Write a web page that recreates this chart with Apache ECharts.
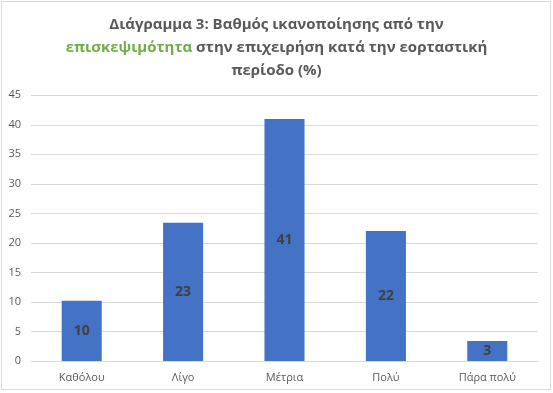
<!DOCTYPE html>
<html><head><meta charset="utf-8">
<script src="https://cdn.jsdelivr.net/npm/echarts@6/dist/echarts.min.js"></script>
<style>
html,body{margin:0;padding:0;background:#fff;}
#c{width:553px;height:393px;}
#f{position:absolute;left:1px;top:1px;width:550px;height:389px;border:1px solid #d9d9d9;box-sizing:border-box;pointer-events:none;}
</style></head>
<body>
<div id="c"></div><div id="f"></div>
<script>
const categories = ['Καθόλου', 'Λίγο', 'Μέτρια', 'Πολύ', 'Πάρα πολύ'];
const values = [10.2, 23.4, 41.0, 22.0, 3.4];
const yTicks = [0, 5, 10, 15, 20, 25, 30, 35, 40, 45];

const chart = echarts.init(document.getElementById('c'));
chart.setOption({
  animation: false,
  backgroundColor: '#fff',
  title: {
    left: 'center',
    top: 8,
    text: '{a|Διάγραμμα 3: Βαθμός ικανοποίησης από την}\n{g|επισκεψιμότητα}{a| στην επιχειρήση κατά την εορταστική}\n{a|περίοδο (%)}',
    textStyle: {
      rich: {
        a: { fontFamily: 'Open Sans', fontSize: 15, fontWeight: 'bold', color: '#595959', lineHeight: 23 },
        g: { fontFamily: 'Open Sans', fontSize: 15, fontWeight: 'bold', color: '#70AD47', lineHeight: 23 }
      }
    }
  },
  grid: { left: 31, right: 15, top: 95.3, bottom: 32, containLabel: false },
  xAxis: {
    type: 'category',
    data: categories,
    axisLine: { lineStyle: { color: '#d9d9d9' } },
    axisTick: { show: false },
    axisLabel: { color: '#595959', fontSize: 11, fontFamily: 'Open Sans', margin: 11 }
  },
  yAxis: {
    type: 'value',
    min: yTicks[0],
    max: yTicks[yTicks.length - 1],
    interval: yTicks[1] - yTicks[0],
    axisLine: { show: false },
    axisTick: { show: false },
    splitLine: { lineStyle: { color: '#d9d9d9' } },
    axisLabel: { color: '#595959', fontSize: 11, fontFamily: 'Open Sans', margin: 10 }
  },
  series: [{
    type: 'bar',
    data: values,
    barWidth: '39.5%',
    itemStyle: { color: '#4472C4' },
    label: {
      show: true,
      position: 'inside',
      formatter: p => Math.round(p.value),
      color: '#404040',
      fontWeight: 'bold',
      fontSize: 14,
      fontFamily: 'Open Sans'
    }
  }]
});
</script>
</body></html>
